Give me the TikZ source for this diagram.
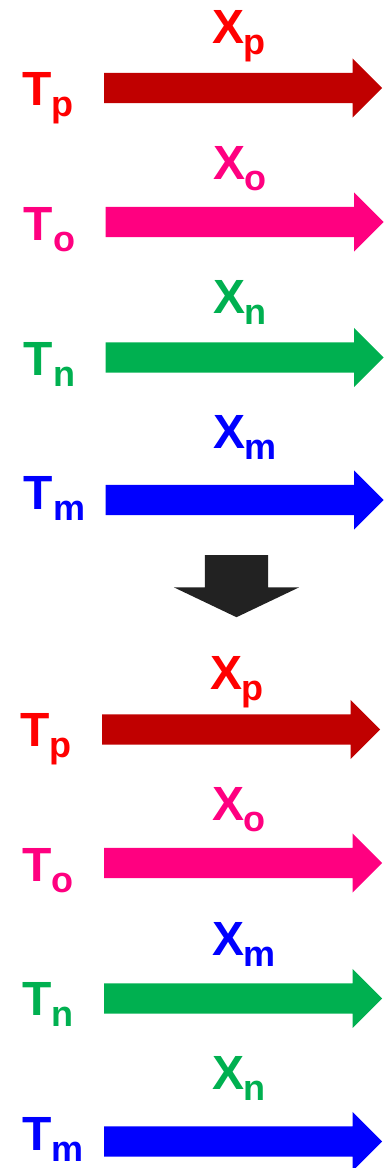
\documentclass[tikz,border=0pt]{standalone}
\usepackage{fontspec}
\setmainfont{Liberation Sans}
\usetikzlibrary{shapes.arrows}
\definecolor{tred}{HTML}{FF0000}
\definecolor{dred}{HTML}{C00000}
\definecolor{tpink}{HTML}{FF0080}
\definecolor{tgreen}{HTML}{00B050}
\definecolor{tblue}{HTML}{0000FF}
\definecolor{shade}{HTML}{222222}
\newcommand{\lowsub}[1]{\raisebox{-11pt}{\fontsize{36}{36}\selectfont #1}}

\begin{document}
\begin{tikzpicture}[x=1pt,y=-1pt,font=\fontsize{48}{48}\selectfont\bfseries,
  lbl/.style={inner sep=0pt,anchor=base west},
  bar/.style={single arrow,single arrow head extend=14.5pt,text height=15pt,text depth=15pt,
    minimum height=278pt,inner sep=0pt,anchor=tail}]
\useasboundingbox (0,0) rectangle (391,1168);
\foreach \i/\ay/\tb/\xb/\dx/\ts/\tc/\ac/\xs/\xc in {
    1/88/105/43/0/p/tred/dred/p/tred,
    2/222/240/179/1.5/o/tpink/tpink/o/tpink,
    3/357.5/375/313/1.5/n/tgreen/tgreen/n/tgreen,
    4/500/509/448/1.5/m/tblue/tblue/m/tblue,
    5/729.5/746/689/-2/p/tred/dred/p/tred,
    6/863/881/820/0/o/tpink/tpink/o/tpink,
    7/998.5/1015/955/0/n/tgreen/tgreen/m/tblue,
    8/1141.5/1150/1089/0/m/tblue/tblue/n/tgreen}{
  \node[bar,fill=\ac] (arr\i) at (104+\dx,\ay) {};
  \node[lbl,text=\tc] (t\i) at (22+\dx,\tb) {T\lowsub{\ts}};
  \node[lbl,text=\xc] (x\i) at (212+\dx,\xb) {X\kern-1pt\lowsub{\xs}};
}
\node[single arrow,fill=shade,rotate=-90,anchor=tail,inner sep=0pt,
  single arrow head extend=31pt,single arrow tip angle=129,
  text height=31.5pt,text depth=31.5pt,minimum height=62pt] (down) at (236.5,555) {};
\end{tikzpicture}
\end{document}
